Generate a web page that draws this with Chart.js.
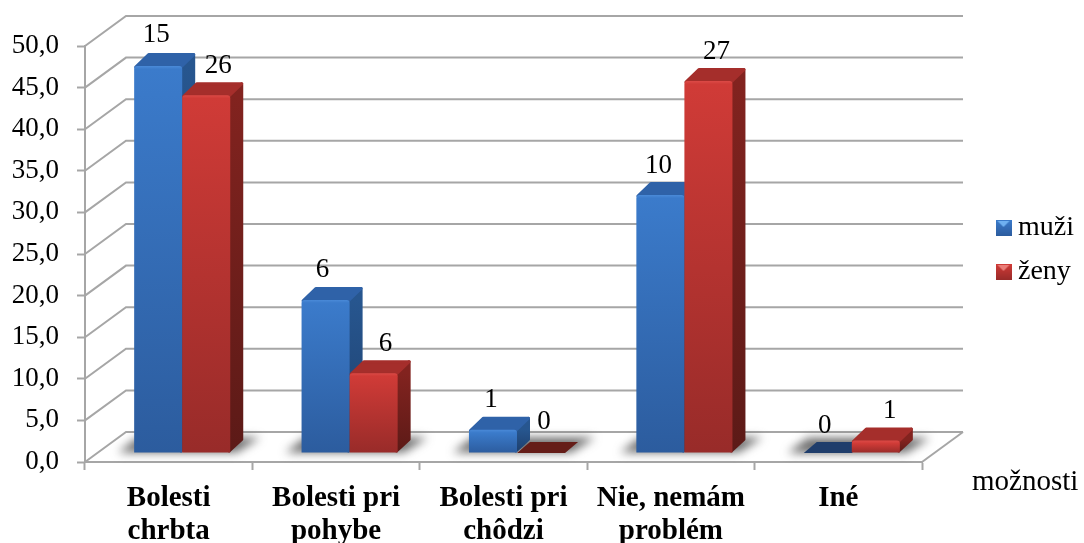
<!DOCTYPE html>
<html>
<head>
<meta charset="utf-8">
<script src="https://cdn.jsdelivr.net/npm/chart.js@4/dist/chart.umd.min.js"></script>
<style>
  body { margin: 0; background: #fff; }
  canvas { display: block; }
</style>
</head>
<body>
<canvas id="chart-problems" width="1084" height="543"></canvas>
<script>
const categories = [
  ['Bolesti', 'chrbta'],
  ['Bolesti pri', 'pohybe'],
  ['Bolesti pri', 'chôdzi'],
  ['Nie, nemám', 'problém'],
  ['Iné']
];
const seriesNames = ['muži', 'ženy'];
// bar heights are percentages, the labels above them are head counts
const muziValues = [46.5, 18.4, 2.8, 31.0, 0];
const zenyValues = [43.0, 9.6, 0, 44.7, 1.5];
const muziCounts = [15, 6, 1, 10, 0];
const zenyCounts = [26, 6, 0, 27, 1];
const axisTitle = 'možnosti';

const SERIF = '"Liberation Serif", "Times New Roman", serif';
const GRID = '#a6a6a6';

// oblique projection: wall depth, bar plane and bar depth in px
const WALL = { x: 41, y: 30 };
const PLANE = { x: 13.5, y: 9 };
const BAR_DEPTH = { x: 13, y: 13 };

const palettes = [
  { hi: '#4a8ad8', top: '#3b7bcb', bottom: '#2c5c9e', lid: '#2f62a8', sideTop: '#27568f', sideBottom: '#1e3f6c', flat: '#1f3d6b' },
  { hi: '#dc4a46', top: '#d03b37', bottom: '#982b29', lid: '#a52e2b', sideTop: '#82231f', sideBottom: '#5c1a17', flat: '#651d18' }
];

// label nudges, Excel-style hand placement
const labelShiftX = [[-2, -3, -2, -2, -3], [12, 12, 3, 8, 14]];
const labelShiftY = [[-31, -30, -30, -29, -27], [-29, -29, -31, -29, -30]];

function frontFill(index) {
  return ctx => {
    const chart = ctx.chart;
    if (!chart.chartArea || ctx.raw === undefined) return palettes[index].top;
    const y = chart.scales.y;
    const top = y.getPixelForValue(ctx.raw);
    const base = y.getPixelForValue(0);
    if (base - top < 1) return palettes[index].top;
    const g = chart.ctx.createLinearGradient(0, top, 0, base);
    const edge = Math.min(0.4, 3 / (base - top));
    g.addColorStop(0, palettes[index].hi);
    g.addColorStop(edge, palettes[index].top);
    g.addColorStop(1, palettes[index].bottom);
    return g;
  };
}

function legendIcon(index) {
  const icon = document.createElement('canvas');
  icon.width = 16;
  icon.height = 16;
  const c = icon.getContext('2d');
  const g = c.createLinearGradient(0, 0, 0, 16);
  g.addColorStop(0, palettes[index].top);
  g.addColorStop(1, palettes[index].bottom);
  c.fillStyle = g;
  c.fillRect(0, 0, 16, 16);
  c.fillStyle = index === 0 ? '#6fb0f0' : '#ea7d78';
  c.beginPath();
  c.moveTo(2, 1);
  c.lineTo(14, 1);
  c.lineTo(8, 7);
  c.closePath();
  c.fill();
  return icon;
}

function drawWalls(chart) {
  const { ctx, chartArea, scales } = chart;
  ctx.save();
  ctx.strokeStyle = GRID;
  ctx.lineWidth = 2;
  scales.y.ticks.forEach(t => {
    const py = scales.y.getPixelForValue(t.value);
    ctx.beginPath();
    ctx.moveTo(chartArea.left, py);
    ctx.lineTo(chartArea.left + WALL.x, py - WALL.y);
    ctx.lineTo(chartArea.right + WALL.x, py - WALL.y);
    ctx.stroke();
  });
  // right edge of the floor
  ctx.beginPath();
  ctx.moveTo(chartArea.right, chartArea.bottom);
  ctx.lineTo(chartArea.right + WALL.x, chartArea.bottom - WALL.y);
  ctx.stroke();
  ctx.restore();
}

function drawShadows(chart) {
  const { ctx } = chart;
  const blue = chart.getDatasetMeta(0).data;
  const red = chart.getDatasetMeta(1).data;
  ctx.save();
  ctx.filter = 'blur(5px)';
  ctx.fillStyle = 'rgba(70, 70, 70, 0.8)';
  blue.forEach((bar, i) => {
    const l = bar.x - bar.width / 2 + PLANE.x;
    const r = red[i].x + red[i].width / 2 + PLANE.x;
    const base = bar.base - PLANE.y;
    ctx.beginPath();
    ctx.moveTo(l - 16, base);
    ctx.lineTo(r + 6, base);
    ctx.lineTo(r + 30, base - 15);
    ctx.lineTo(l + 4, base - 15);
    ctx.closePath();
    ctx.fill();
  });
  ctx.restore();
}

// side and lid of a bar, the front comes from the bar element itself
function drawBarBody(ctx, bar, pal) {
  const l = bar.x - bar.width / 2;
  const r = bar.x + bar.width / 2;
  const d = BAR_DEPTH;
  const flat = bar.base - bar.y < 1;
  ctx.lineJoin = 'round';

  if (flat) {
    ctx.fillStyle = pal.flat;
    ctx.beginPath();
    ctx.moveTo(l, bar.y);
    ctx.lineTo(r, bar.y);
    ctx.lineTo(r + d.x, bar.y - 11);
    ctx.lineTo(l + d.x, bar.y - 11);
    ctx.closePath();
    ctx.fill();
    return;
  }

  // polygons are inset and stroked thick so the outer corners come out rounded
  ctx.lineWidth = 3;
  const g = ctx.createLinearGradient(0, bar.y, 0, bar.base);
  g.addColorStop(0, pal.sideTop);
  g.addColorStop(1, pal.sideBottom);
  ctx.fillStyle = g;
  ctx.strokeStyle = g;
  ctx.beginPath();
  ctx.moveTo(r - 1, bar.base - 1.5);
  ctx.lineTo(r + d.x - 1.5, bar.base - d.y);
  ctx.lineTo(r + d.x - 1.5, bar.y - d.y + 1.5);
  ctx.lineTo(r - 1, bar.y + 1.5);
  ctx.closePath();
  ctx.fill();
  ctx.stroke();

  ctx.fillStyle = pal.lid;
  ctx.strokeStyle = pal.lid;
  ctx.beginPath();
  ctx.moveTo(l + 1.5, bar.y + 1);
  ctx.lineTo(r - 1.5, bar.y + 1);
  ctx.lineTo(r + d.x - 1.5, bar.y - d.y + 1.5);
  ctx.lineTo(l + d.x + 1.5, bar.y - d.y + 1.5);
  ctx.closePath();
  ctx.fill();
  ctx.stroke();
}

const depthPlugin = {
  id: 'depth',
  // bars are painted below in series order, so the red front covers the blue side
  beforeDatasetDraw() {
    return false;
  },
  beforeDatasetsDraw(chart) {
    const { ctx } = chart;
    drawWalls(chart);
    drawShadows(chart);
    ctx.save();
    ctx.translate(PLANE.x, -PLANE.y);
    [0, 1].forEach(index => {
      const meta = chart.getDatasetMeta(index);
      meta.data.forEach(bar => drawBarBody(ctx, bar, palettes[index]));
      meta.controller.draw();
    });
    ctx.restore();
  },
  afterDatasetsDraw(chart) {
    const { ctx } = chart;
    const counts = [muziCounts, zenyCounts];
    ctx.save();
    ctx.font = '27px ' + SERIF;
    ctx.fillStyle = '#000';
    ctx.textAlign = 'center';
    ctx.textBaseline = 'middle';
    counts.forEach((list, s) => {
      const meta = chart.getDatasetMeta(s);
      list.forEach((count, i) => {
        const bar = meta.data[i];
        ctx.fillText(count, bar.x + PLANE.x + labelShiftX[s][i], bar.y - PLANE.y + labelShiftY[s][i]);
      });
    });
    ctx.font = '29px ' + SERIF;
    ctx.textAlign = 'left';
    ctx.fillText(axisTitle, 972, 482);
    ctx.restore();
  },
  afterLayout(chart) {
    // legend sits to the right of the back wall, clear of the reserved padding
    chart.legend.left = 987;
    chart.legend.right = 1084;
    chart.legend.top = 198;
  }
};

new Chart(document.getElementById('chart-problems'), {
  type: 'bar',
  data: {
    labels: categories,
    datasets: [
      { label: seriesNames[0], data: muziValues, backgroundColor: frontFill(0), borderRadius: { topLeft: 3, topRight: 3 }, borderSkipped: 'bottom' },
      { label: seriesNames[1], data: zenyValues, backgroundColor: frontFill(1), borderRadius: { topLeft: 3, topRight: 3 }, borderSkipped: 'bottom' }
    ]
  },
  options: {
    responsive: false,
    animation: false,
    barPercentage: 1,
    categoryPercentage: 0.574,
    layout: { padding: { top: 46, right: 82, left: 0, bottom: 0 } },
    scales: {
      x: {
        afterFit: s => { s.height = 81; },
        border: { color: GRID, width: 2 },
        grid: { drawOnChartArea: false, tickColor: GRID, tickWidth: 2, tickLength: 8 },
        ticks: {
          color: '#000',
          maxRotation: 0,
          autoSkip: false,
          padding: 12,
          font: { family: SERIF, size: 29, weight: 'bold', lineHeight: 1.14 }
        }
      },
      y: {
        min: 0,
        max: 50,
        afterFit: s => { s.width = 85; },
        border: { color: GRID, width: 2 },
        grid: { drawOnChartArea: false, tickColor: GRID, tickWidth: 2, tickLength: 8 },
        ticks: {
          stepSize: 5,
          color: '#000',
          padding: 18,
          font: { family: SERIF, size: 27 },
          callback: v => v.toFixed(1).replace('.', ',')
        }
      }
    },
    plugins: {
      tooltip: { enabled: false },
      legend: {
        position: 'right',
        align: 'start',
        maxWidth: 80,
        labels: {
          usePointStyle: true,
          boxWidth: 1,
          padding: 16,
          color: '#000',
          font: { family: SERIF, size: 28 },
          generateLabels: () => seriesNames.map((name, i) => ({
            text: name,
            datasetIndex: i,
            pointStyle: legendIcon(i),
            fontColor: '#000',
            lineWidth: 0
          }))
        }
      }
    }
  },
  plugins: [depthPlugin]
});
</script>
</body>
</html>
